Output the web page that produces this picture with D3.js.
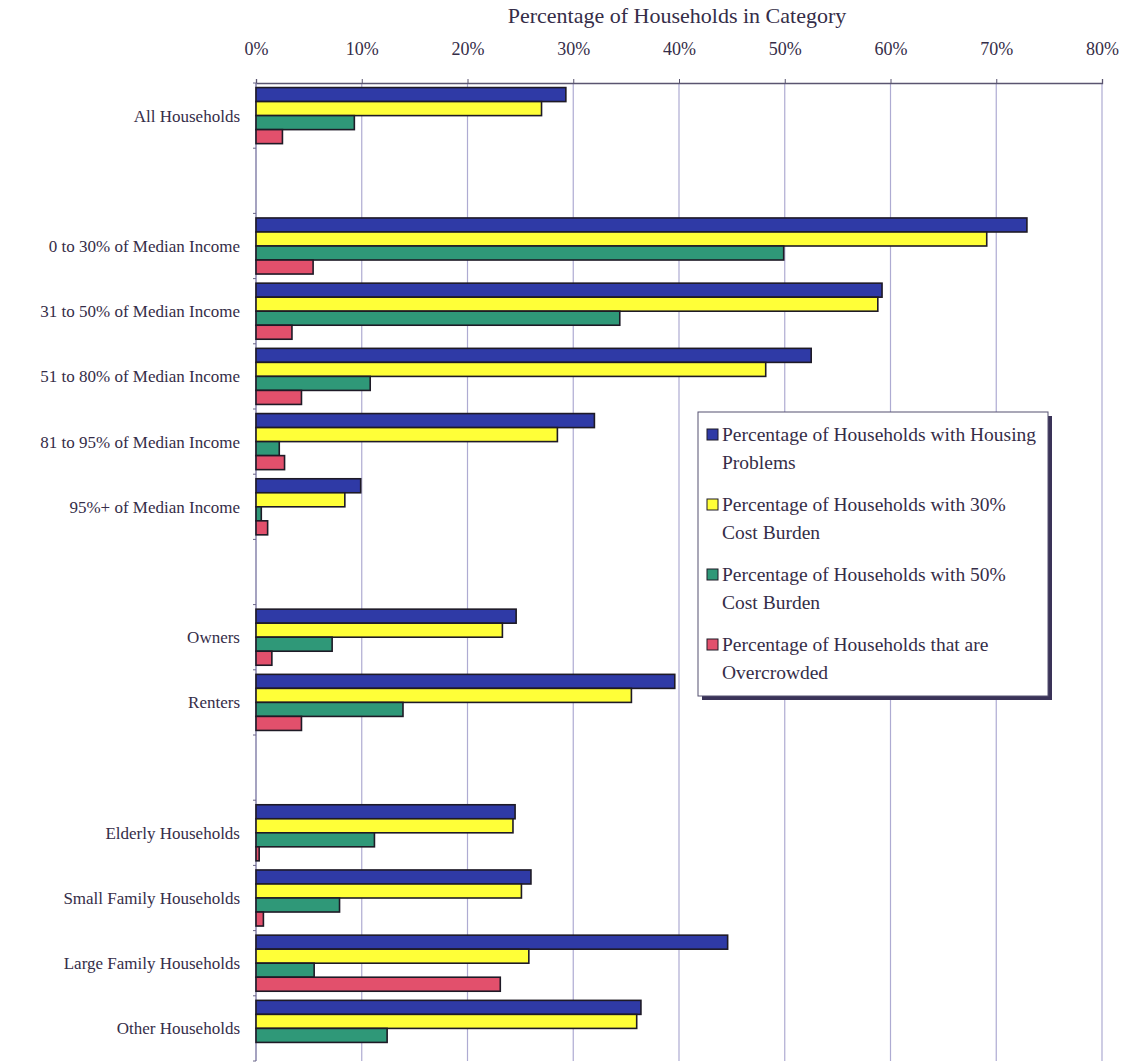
<!DOCTYPE html>
<meta charset="UTF-8">
<script src="https://d3js.org/d3.v7.min.js"></script>
<style>
body { margin: 0; background: #fff; }
text { font-family: "Liberation Serif", "Times New Roman", serif; fill: #352d48; }
</style>
<div id="chart"></div>
<script>

// categories ("" rows are the blank spacer rows between groups)
var categories = ["All Households", "", "0 to 30% of Median Income", "31 to 50% of Median Income",
    "51 to 80% of Median Income", "81 to 95% of Median Income", "95%+ of Median Income", " ",
    "Owners", "Renters", "  ", "Elderly Households", "Small Family Households",
    "Large Family Households", "Other Households"]

var seriesNames = ["Percentage of Households with Housing Problems",
    "Percentage of Households with 30% Cost Burden",
    "Percentage of Households with 50% Cost Burden",
    "Percentage of Households that are Overcrowded"]

// values in %, null for the spacer rows
var housingProblems = [29.3, null, 72.9, 59.2, 52.5, 32.0, 9.9, null, 24.6, 39.6, null, 24.5, 26.0, 44.6, 36.4]
var costBurden30    = [27.0, null, 69.1, 58.8, 48.2, 28.5, 8.4, null, 23.3, 35.5, null, 24.3, 25.1, 25.8, 36.0]
var costBurden50    = [9.3,  null, 49.9, 34.4, 10.8, 2.2,  0.5, null, 7.2,  13.9, null, 11.2, 7.9,  5.5,  12.4]
var overcrowded     = [2.5,  null, 5.4,  3.4,  4.3,  2.7,  1.1, null, 1.5,  4.3,  null, 0.3,  0.7,  23.1, 0]

var xTicks = [0, 10, 20, 30, 40, 50, 60, 70, 80]
var colors = ["#2f3aa6", "#ffff38", "#2f9878", "#e2506c"]

var series = [housingProblems, costBurden30, costBurden50, overcrowded]

var width = 1126, height = 1063
var margin = {top: 83, right: 24, bottom: 2, left: 256}

var svg = d3.select("#chart").append("svg")
    .attr("width", width)
    .attr("height", height)

var x = d3.scaleLinear().domain([0, 80]).range([margin.left, width - margin.right])
var y = d3.scaleBand().domain(categories).range([margin.top, height - margin.bottom])
    .paddingInner(0.14).paddingOuter(0.07)
var ySub = d3.scaleBand().domain(d3.range(series.length)).range([0, y.bandwidth()])

// gridlines
svg.append("g")
    .selectAll("line")
    .data(xTicks)
    .enter().append("line")
        .attr("x1", d => x(d)).attr("x2", d => x(d))
        .attr("y1", margin.top).attr("y2", height - margin.bottom)
        .attr("stroke", "#aeabd2")
        .attr("stroke-width", 1.2)

// top axis
var xAxis = svg.append("g")
    .attr("transform", "translate(0," + margin.top + ")")
    .call(d3.axisTop(x).tickValues(xTicks).tickFormat(d => d + "%").tickSize(4).tickPadding(24))
xAxis.select(".domain").attr("stroke", "#5a5570").attr("stroke-width", 1.3)
xAxis.selectAll(".tick line").attr("stroke", "#5a5570")
xAxis.selectAll("text").style("font-size", "18px").attr("fill", "#352d48")

// left axis (category separators only)
var bounds = d3.range(categories.length + 1).map(i => margin.top + i * (height - margin.top - margin.bottom) / categories.length)
svg.append("line")
    .attr("x1", margin.left).attr("x2", margin.left)
    .attr("y1", margin.top).attr("y2", height - margin.bottom)
    .attr("stroke", "#8a86a8").attr("stroke-width", 1.2)
svg.append("g").selectAll("line")
    .data(bounds)
    .enter().append("line")
        .attr("x1", margin.left - 3).attr("x2", margin.left)
        .attr("y1", d => d).attr("y2", d => d)
        .attr("stroke", "#6a6688")

// category labels
svg.append("g").selectAll("text")
    .data(categories.filter(c => c.trim() !== ""))
    .enter().append("text")
        .attr("x", 240)
        .attr("y", d => y(d) + y.bandwidth() / 2)
        .attr("dy", "0.35em")
        .attr("text-anchor", "end")
        .style("font-size", "17px")
        .text(d => d)

// bars
series.forEach(function(vals, si) {
    svg.append("g").selectAll("rect")
        .data(categories.map((c, i) => ({cat: c, v: vals[i]})).filter(d => d.v !== null && d.v > 0))
        .enter().append("rect")
            .attr("x", x(0))
            .attr("y", d => y(d.cat) + ySub(si))
            .attr("width", d => x(d.v) - x(0))
            .attr("height", ySub.bandwidth())
            .attr("fill", colors[si])
            .attr("stroke", "#1e1a26")
            .attr("stroke-width", 1.6)
})

// title
svg.append("text")
    .attr("x", 677).attr("y", 23)
    .attr("text-anchor", "middle")
    .style("font-size", "22px")
    .text("Percentage of Households in Category")

// legend
var lg = svg.append("g").attr("transform", "translate(698,412)")
var lw = 350, lh = 284
lg.append("rect").attr("x", 4).attr("y", 4).attr("width", lw).attr("height", lh).attr("fill", "#3a3358")
lg.append("rect").attr("width", lw).attr("height", lh).attr("fill", "#fff")
    .attr("stroke", "#555070").attr("stroke-width", 1)

var legendLines = [
    ["Percentage of Households with Housing", "Problems"],
    ["Percentage of Households with 30%", "Cost Burden"],
    ["Percentage of Households with 50%", "Cost Burden"],
    ["Percentage of Households that are", "Overcrowded"]
]
legendLines.forEach(function(lines, i) {
    var gy = 22 + i * 70
    lg.append("rect").attr("x", 9).attr("y", gy - 5).attr("width", 11).attr("height", 11)
        .attr("fill", colors[i]).attr("stroke", "#1e1a26").attr("stroke-width", 1)
    lines.forEach(function(t, j) {
        lg.append("text")
            .attr("x", 24).attr("y", gy + j * 28)
            .attr("dy", "0.35em")
            .style("font-size", "19.5px")
            .text(t)
    })
})

</script>
